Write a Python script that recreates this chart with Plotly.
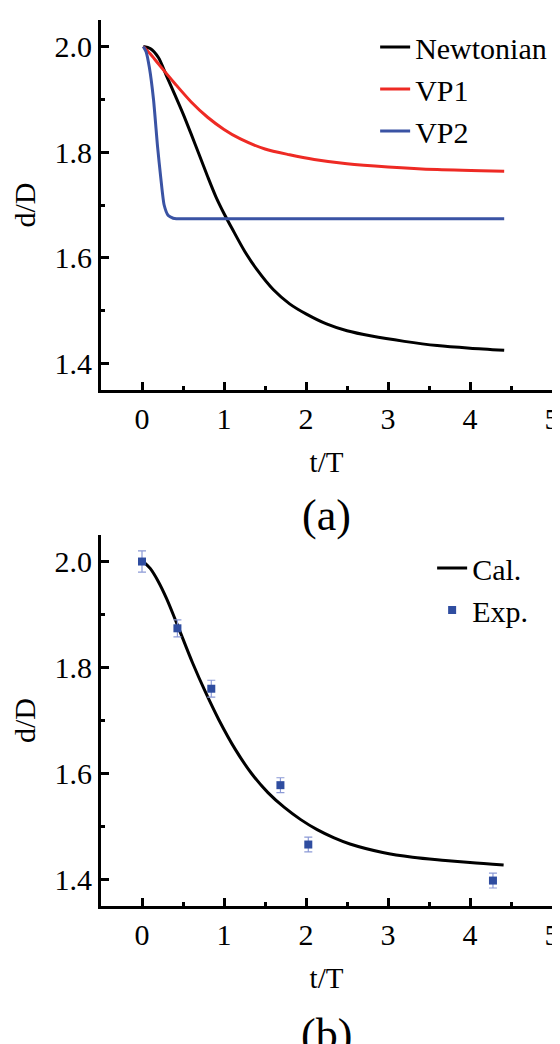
import plotly.graph_objects as go

# ---- data (a) ----
t_newt = [0.016, 0.1, 0.2, 0.3, 0.4, 0.5, 0.6, 0.7, 0.8, 0.9, 1.0, 1.1, 1.25, 1.4, 1.6, 1.8, 2.0, 2.25, 2.5, 2.8, 3.2, 3.6, 4.0, 4.417]
d_newt = [2.0, 1.996, 1.979, 1.944, 1.909, 1.873, 1.834, 1.794, 1.754, 1.716, 1.684, 1.655, 1.613, 1.578, 1.540, 1.513, 1.494, 1.475, 1.462, 1.452, 1.442, 1.434, 1.429, 1.425]

t_vp1 = [0.016, 0.1, 0.2, 0.4, 0.6, 0.8, 1.0, 1.2, 1.5, 1.8, 2.1, 2.5, 3.0, 3.6, 4.417]
d_vp1 = [2.0, 1.986, 1.967, 1.930, 1.895, 1.866, 1.843, 1.825, 1.806, 1.795, 1.786, 1.778, 1.772, 1.767, 1.764]

t_vp2 = [0.016, 0.05, 0.09, 0.14, 0.19, 0.23, 0.27, 0.32, 0.38, 0.42, 1.0, 2.0, 3.0, 4.0, 4.417]
d_vp2 = [2.0, 1.99, 1.96, 1.90, 1.81, 1.75, 1.70, 1.68, 1.675, 1.674, 1.674, 1.674, 1.674, 1.674, 1.674]

# ---- data (b) ----
t_cal = [0.016, 0.1, 0.2, 0.3, 0.43, 0.616, 0.776, 0.935, 1.136, 1.336, 1.536, 1.736, 1.936, 2.136, 2.336, 2.536, 2.936, 3.3, 3.7, 4.0, 4.41]
d_cal = [2.0, 1.987, 1.962, 1.930, 1.881, 1.809, 1.753, 1.702, 1.646, 1.600, 1.564, 1.536, 1.513, 1.494, 1.479, 1.467, 1.451, 1.442, 1.436, 1.432, 1.4275]

t_exp = [0.0, 0.432, 0.845, 1.688, 2.028, 4.28]
d_exp = [2.0, 1.874, 1.760, 1.578, 1.466, 1.398]
err_exp = [0.02, 0.016, 0.016, 0.014, 0.014, 0.014]

x_ticks = [0, 1, 2, 3, 4, 5]
y_ticks = [1.4, 1.6, 1.8, 2.0]
y_tick_text = ["1.4", "1.6", "1.8", "2.0"]

FONT = "Liberation Serif"
BLACK = "#000000"
RED = "#ee2a24"
BLUE = "#3a53a4"
MBLUE = "#2f4da0"
EBLUE = "#8c9ad6"

fig = go.Figure()
fig.add_trace(go.Scatter(x=t_newt, y=d_newt, mode="lines", name="Newtonian",
                         line=dict(color=BLACK, width=3, shape="spline", smoothing=0.8),
                         xaxis="x", yaxis="y", legend="legend"))
fig.add_trace(go.Scatter(x=t_vp1, y=d_vp1, mode="lines", name="VP1",
                         line=dict(color=RED, width=3, shape="spline", smoothing=0.8),
                         xaxis="x", yaxis="y", legend="legend"))
fig.add_trace(go.Scatter(x=t_vp2, y=d_vp2, mode="lines", name="VP2",
                         line=dict(color=BLUE, width=3, shape="spline", smoothing=0.6),
                         xaxis="x", yaxis="y", legend="legend"))
fig.add_trace(go.Scatter(x=t_cal, y=d_cal, mode="lines", name="Cal.",
                         line=dict(color=BLACK, width=3, shape="spline", smoothing=1.0),
                         xaxis="x2", yaxis="y2", legend="legend2"))
fig.add_trace(go.Scatter(x=t_exp, y=d_exp, mode="markers", name="Exp.",
                         marker=dict(symbol="square", size=8, color=MBLUE),
                         error_y=dict(type="data", array=err_exp, visible=True,
                                      color=EBLUE, thickness=1.2, width=4),
                         xaxis="x2", yaxis="y2", legend="legend2"))

xax = dict(range=[-0.5, 5], tickvals=x_ticks, ticks="inside", ticklen=8, tickwidth=2.5,
           tickcolor=BLACK, showline=True, linewidth=3, linecolor=BLACK, showgrid=False,
           zeroline=False, tickfont=dict(family=FONT, size=30, color=BLACK),
           minor=dict(ticks="inside", ticklen=4, tickwidth=2.5, dtick=0.5, tick0=0, tickcolor=BLACK),
           title=dict(text="t/T", font=dict(family=FONT, size=29, color=BLACK), standoff=18))
yax = dict(range=[1.35, 2.05], tickvals=y_ticks, ticktext=y_tick_text, ticks="inside", ticklen=8,
           tickwidth=2.5, tickcolor=BLACK, showline=True, linewidth=3, linecolor=BLACK,
           showgrid=False, zeroline=False, tickfont=dict(family=FONT, size=30, color=BLACK),
           minor=dict(ticks="inside", ticklen=4, tickwidth=2.5, dtick=0.1, tick0=1.4, tickcolor=BLACK),
           title=dict(text="d/D", font=dict(family=FONT, size=30, color=BLACK), standoff=12))

top_dom = [0.5824, 1.0]
bot_dom = [0.0, 0.4187]

PL, PR, PT, PB = 93, 552, 12, 898
def px_x(px):
    return (px - PL) / (PR - PL)
def px_y(py):
    return (PB - py) / (PB - PT)

fig.update_layout(
    width=560, height=1044,
    margin=dict(l=PL, r=560 - PR, t=PT, b=1044 - PB),
    paper_bgcolor="white", plot_bgcolor="white",
    xaxis=dict(xax, domain=[0, 1], anchor="y"),
    yaxis=dict(yax, domain=top_dom, anchor="x"),
    xaxis2=dict(xax, domain=[0, 1], anchor="y2"),
    yaxis2=dict(yax, domain=bot_dom, anchor="x2"),
    legend=dict(x=px_x(372), y=px_y(13), xref="paper", yref="paper",
                xanchor="left", yanchor="top", bgcolor="rgba(0,0,0,0)",
                font=dict(family=FONT, size=30, color=BLACK), tracegroupgap=0),
    legend2=dict(x=px_x(430), y=px_y(534), xref="paper", yref="paper",
                 xanchor="left", yanchor="top", bgcolor="rgba(0,0,0,0)",
                 font=dict(family=FONT, size=30, color=BLACK), tracegroupgap=0),
    showlegend=True,
    annotations=[
        dict(text="(a)", xref="paper", yref="paper", x=0.5, y=px_y(507),
             xanchor="center", yanchor="middle", showarrow=False,
             font=dict(family=FONT, size=44, color=BLACK)),
        dict(text="(b)", xref="paper", yref="paper", x=0.5, y=px_y(1026),
             xanchor="center", yanchor="middle", showarrow=False,
             font=dict(family=FONT, size=44, color=BLACK)),
    ],
)

fig.write_html("out.html")
